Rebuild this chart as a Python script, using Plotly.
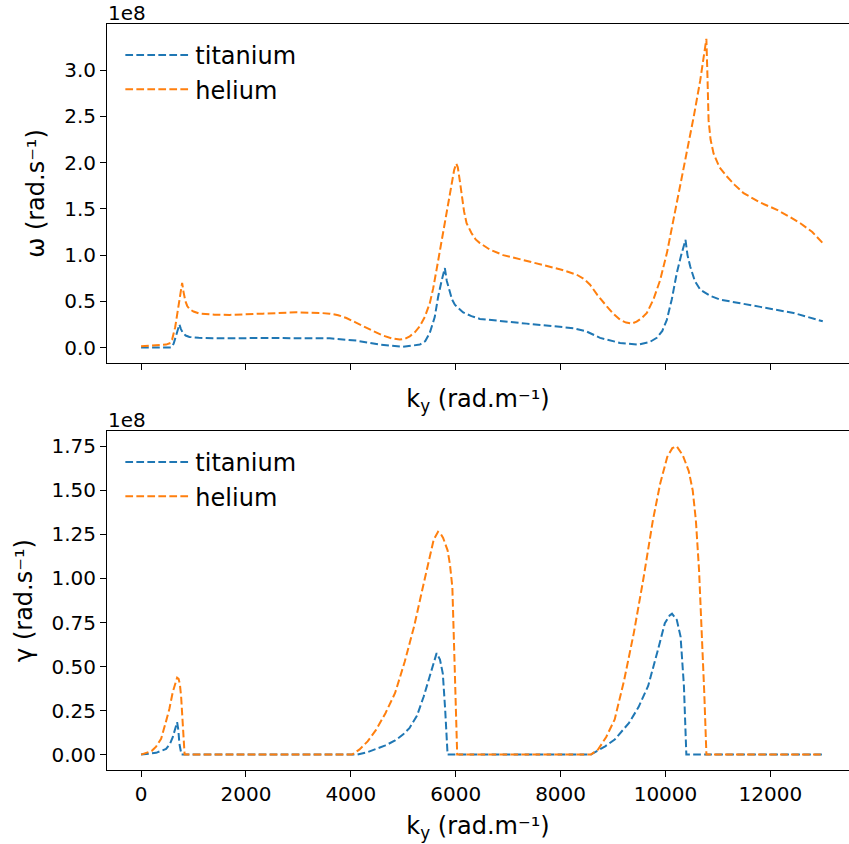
import plotly.graph_objects as go

# ---------------- data (values in units of 1e8) ----------------
# omega, titanium
k_ti_w = [0, 570, 620, 668, 731, 760, 795, 850, 922, 1100, 1368, 2322, 3596, 4106, 4551, 4997,
          5315, 5420, 5506, 5600, 5665, 5730, 5793, 5830, 5888, 5930, 5983, 6060, 6142, 6300,
          6461, 7353, 8243, 8486, 8753, 9135, 9485, 9700, 9835, 9940, 10026, 10120, 10217,
          10300, 10382, 10420, 10472, 10560, 10663, 10850, 11045, 11809, 12445, 13000]
w_ti = [0.0, 0.0, 0.04, 0.12, 0.25, 0.20, 0.16, 0.13, 0.115, 0.105, 0.10, 0.103, 0.10, 0.075,
        0.032, 0.008, 0.032, 0.07, 0.16, 0.33, 0.55, 0.72, 0.86, 0.72, 0.59, 0.52, 0.464, 0.42,
        0.38, 0.34, 0.31, 0.259, 0.21, 0.176, 0.105, 0.05, 0.032, 0.06, 0.105, 0.18, 0.30, 0.52,
        0.81, 1.0, 1.165, 1.0, 0.877, 0.72, 0.626, 0.56, 0.518, 0.44, 0.374, 0.284]

# omega, helium
k_he_w = [0, 300, 477, 560, 592, 650, 700, 750, 783, 810, 846, 880, 922, 1000, 1113, 1400, 1686,
          2322, 2960, 3400, 3596, 3760, 3915, 4080, 4232, 4420, 4614, 4780, 4933, 5030, 5124,
          5220, 5315, 5410, 5506, 5570, 5634, 5700, 5760, 5820, 5880, 5930, 5970, 6010, 6040,
          6079, 6120, 6160, 6207, 6300, 6380, 6461, 6650, 6906, 7300, 7670, 8000, 8308, 8450,
          8562, 8700, 8881, 9000, 9135, 9250, 9358, 9450, 9550, 9645, 9770, 9899, 10030, 10153,
          10280, 10408, 10540, 10663, 10730, 10780, 10800, 10822, 10860, 10917, 11030, 11172,
          11320, 11490, 11800, 12128, 12350, 12572, 12800, 13000]
w_he = [0.014, 0.025, 0.032, 0.05, 0.086, 0.22, 0.41, 0.60, 0.70, 0.60, 0.50, 0.45, 0.417, 0.39,
        0.367, 0.355, 0.353, 0.367, 0.381, 0.375, 0.367, 0.35, 0.32, 0.275, 0.23, 0.18, 0.13,
        0.10, 0.086, 0.095, 0.122, 0.165, 0.23, 0.33, 0.48, 0.64, 0.84, 1.05, 1.27, 1.46, 1.65,
        1.80, 1.92, 1.99, 1.95, 1.80, 1.62, 1.47, 1.345, 1.24, 1.17, 1.13, 1.06, 1.00, 0.945,
        0.896, 0.845, 0.788, 0.74, 0.68, 0.57, 0.446, 0.37, 0.30, 0.27, 0.259, 0.28, 0.32, 0.374,
        0.52, 0.73, 1.03, 1.38, 1.73, 2.10, 2.50, 2.89, 3.15, 3.34, 2.95, 2.46, 2.25, 2.10, 1.95,
        1.85, 1.76, 1.67, 1.57, 1.49, 1.42, 1.345, 1.25, 1.13]

# gamma, titanium
k_ti_g = [0, 286, 477, 550, 604, 650, 687, 710, 731, 770, 4115, 4300, 4480, 4660, 4844, 5000,
          5117, 5260, 5390, 5480, 5550, 5636, 5700, 5754, 5800, 5845, 8577, 8700, 8850, 9032,
          9170, 9305, 9487, 9670, 9852, 9988, 10079, 10125, 10216, 10288, 10352, 10398, 13000]
g_ti = [0, 0.01, 0.032, 0.06, 0.099, 0.14, 0.184, 0.14, 0.061, 0, 0, 0.012, 0.03, 0.052, 0.08,
        0.115, 0.15, 0.22, 0.33, 0.42, 0.50, 0.576, 0.54, 0.46, 0.25, 0, 0, 0.02, 0.047, 0.085,
        0.13, 0.18, 0.27, 0.39, 0.59, 0.746, 0.79, 0.80, 0.765, 0.67, 0.39, 0, 0]

# gamma, helium
k_he_g = [0, 100, 200, 286, 382, 477, 540, 604, 650, 687, 715, 740, 764, 795, 830, 4024, 4161,
          4320, 4480, 4660, 4844, 5030, 5208, 5350, 5481, 5580, 5663, 5720, 5760, 5810, 5845,
          5890, 5936, 5980, 6028, 8577, 8714, 8870, 9032, 9210, 9396, 9580, 9760, 9900, 10034,
          10130, 10216, 10330, 10444, 10520, 10580, 10640, 10690, 10740, 10781, 13000]
g_he = [0, 0.01, 0.02, 0.045, 0.09, 0.19, 0.26, 0.355, 0.41, 0.437, 0.43, 0.40, 0.327, 0.137, 0,
        0, 0.028, 0.075, 0.14, 0.235, 0.35, 0.53, 0.73, 0.92, 1.10, 1.22, 1.265, 1.25, 1.23,
        1.19, 1.16, 1.08, 0.95, 0.50, 0, 0, 0.028, 0.10, 0.20, 0.42, 0.69, 1.00, 1.33, 1.54,
        1.69, 1.74, 1.75, 1.70, 1.61, 1.50, 1.33, 1.05, 0.73, 0.35, 0, 0]

series_names = ["titanium", "helium"]
x_ticks = [0, 2000, 4000, 6000, 8000, 10000, 12000]
x_ticktext = ["0", "2000", "4000", "6000", "8000", "10000", "12000"]
w_ticks = [0.0, 0.5, 1.0, 1.5, 2.0, 2.5, 3.0]
g_ticks = [0.0, 0.25, 0.5, 0.75, 1.0, 1.25, 1.5, 1.75]

# ---------------- styling ----------------
BLUE = "#1f77b4"
ORANGE = "#ff7f0e"
FONT = "DejaVu Sans"
DASH = "7.7px,3.3px"
LW = 2

fig = go.Figure()
fig.add_trace(go.Scatter(x=k_ti_w, y=w_ti, mode="lines", name=series_names[0],
                         line=dict(color=BLUE, width=LW, dash=DASH), xaxis="x", yaxis="y",
                         legend="legend"))
fig.add_trace(go.Scatter(x=k_he_w, y=w_he, mode="lines", name=series_names[1],
                         line=dict(color=ORANGE, width=LW, dash=DASH), xaxis="x", yaxis="y",
                         legend="legend"))
fig.add_trace(go.Scatter(x=k_ti_g, y=g_ti, mode="lines", name=series_names[0],
                         line=dict(color=BLUE, width=LW, dash=DASH), xaxis="x2", yaxis="y2",
                         legend="legend2"))
fig.add_trace(go.Scatter(x=k_he_g, y=g_he, mode="lines", name=series_names[1],
                         line=dict(color=ORANGE, width=LW, dash=DASH), xaxis="x2", yaxis="y2",
                         legend="legend2"))

axis_common = dict(showline=True, linecolor="black", linewidth=1, ticks="outside",
                   ticklen=6, tickwidth=1, tickcolor="black", showgrid=False, zeroline=False,
                   tickfont=dict(family=FONT, size=20, color="black"))

xtitle = dict(text="k<sub>y</sub> (rad.m⁻¹)", font=dict(family=FONT, size=24, color="black"))

top_dom = [(770 - 363) / 746, 1.0]
bot_dom = [0.0, (770 - 431) / 746]

legend_common = dict(font=dict(family=FONT, size=24, color="black"), bgcolor="rgba(0,0,0,0)",
                     borderwidth=0, xanchor="left", yanchor="top", itemwidth=65,
                     tracegroupgap=0)

fig.update_layout(
    width=849, height=844,
    margin=dict(l=107, r=0, t=24, b=74),
    paper_bgcolor="white", plot_bgcolor="white",
    font=dict(family=FONT, color="black"),
    xaxis=dict(axis_common, domain=[0, 1], range=[-650, 13500], anchor="y",
               tickvals=x_ticks, ticktext=x_ticktext, showticklabels=False, mirror=True,
               title=dict(xtitle, standoff=21)),
    yaxis=dict(axis_common, domain=top_dom, range=[-0.167, 3.50], anchor="x",
               tickvals=w_ticks, tickformat=".1f",
               title=dict(text="ω (rad.s⁻¹)", font=dict(family=FONT, size=24, color="black"),
                          standoff=12)),
    xaxis2=dict(axis_common, domain=[0, 1], range=[-650, 13500], anchor="y2",
                tickvals=x_ticks, ticktext=x_ticktext, mirror=True,
                title=dict(xtitle, standoff=12)),
    yaxis2=dict(axis_common, domain=bot_dom, range=[-0.0875, 1.8375], anchor="x2",
                tickvals=g_ticks, tickformat=".2f",
                title=dict(text="γ (rad.s⁻¹)", font=dict(family=FONT, size=24, color="black"),
                           standoff=12)),
    legend=dict(legend_common, x=0.018, y=top_dom[1] - 0.012),
    legend2=dict(legend_common, x=0.018, y=bot_dom[1] - 0.012),
    annotations=[
        dict(text="1e8", xref="paper", yref="paper", x=0, y=top_dom[1], xanchor="left",
             yanchor="bottom", showarrow=False, borderpad=0, yshift=-2,
             font=dict(family=FONT, size=20, color="black")),
        dict(text="1e8", xref="paper", yref="paper", x=0, y=bot_dom[1], xanchor="left",
             yanchor="bottom", showarrow=False, borderpad=0, yshift=-2,
             font=dict(family=FONT, size=20, color="black")),
    ],
)

fig.write_html("out.html", config={"displayModeBar": False},
               post_script="document.body.style.margin='0';document.body.style.overflow='hidden';")
